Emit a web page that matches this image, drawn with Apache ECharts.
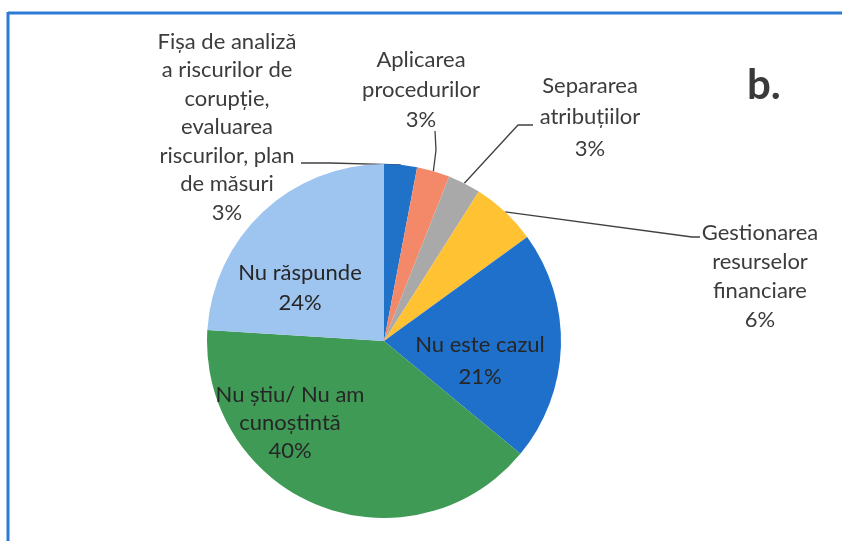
<!DOCTYPE html>
<html>
<head>
<meta charset="utf-8">
<script src="https://cdn.jsdelivr.net/npm/echarts@6/dist/echarts.min.js"></script>
<style>
html,body{margin:0;padding:0;background:#fff;}
#chart{width:842px;height:541px;}
</style>
</head>
<body>
<div id="chart"></div>
<script>
// ---- data ----
const categories = [
  'Fișa de analiză\na riscurilor de\ncorupție,\nevaluarea\nriscurilor, plan\nde măsuri',
  'Aplicarea\nprocedurilor',
  'Separarea\natribuțiilor',
  'Gestionarea\nresurselor\nfinanciare',
  'Nu este cazul',
  'Nu știu/ Nu am\ncunoștintă',
  'Nu răspunde'
];
const values = [3, 3, 3, 6, 21, 40, 24];
const colors = ['#1F72C8', '#F4896A', '#A9A9A9', '#FFC233', '#1E70CA', '#3F9A55', '#9EC4F0'];
const panelLetter = 'b.';

// ---- label styling (positions are layout, not data) ----
const labelSpots = [
  {x: 227, y: 127, lh: 28.5, elbow: [[330, 163], [301, 163]], outside: true},
  {x: 421, y: 90, lh: 30, elbow: [[436, 150], [435, 131]], outside: true},
  {x: 590, y: 117, lh: 31.5, elbow: [[518, 125], [533, 125]], outside: true},
  {x: 760, y: 276, lh: 29, elbow: [[692, 237], [700, 237]], outside: true},
  {x: 480, y: 361, lh: 32, outside: false},
  {x: 290, y: 423, lh: 28, outside: false},
  {x: 300, y: 288, lh: 30, outside: false}
];

const FONT = 'Lato, "Open Sans", sans-serif';
const chart = echarts.init(document.getElementById('chart'));

const data = categories.map((name, i) => ({
  name: name,
  value: values[i],
  itemStyle: {color: colors[i]},
  label: {
    lineHeight: labelSpots[i].lh,
    color: labelSpots[i].outside ? '#3c3c3c' : '#262626'
  },
  labelLine: {show: labelSpots[i].outside}
}));

chart.setOption({
  backgroundColor: '#ffffff',
  animation: false,
  graphic: [
    {type: 'line', shape: {x1: 8, y1: 13, x2: 842, y2: 13}, style: {stroke: '#2E7BD4', lineWidth: 3}},
    {type: 'line', shape: {x1: 8, y1: 12, x2: 8, y2: 541}, style: {stroke: '#2E7BD4', lineWidth: 3}},
    {type: 'text', left: 747, top: 64, style: {text: panelLetter, font: 'bold 42px ' + FONT, fill: '#3a3a3a'}}
  ],
  series: [{
    type: 'pie',
    center: [384, 341],
    radius: [0, 177],
    startAngle: 90,
    clockwise: true,
    avoidLabelOverlap: false,
    data: data,
    label: {
      show: true,
      position: 'outside',
      fontFamily: FONT,
      fontSize: 22,
      align: 'center',
      formatter: p => p.name + '\n' + p.value + '%'
    },
    labelLine: {
      show: true,
      length: 10,
      length2: 10,
      lineStyle: {color: '#404040', width: 1.3}
    },
    emphasis: {disabled: true},
    labelLayout: function (params) {
      const s = labelSpots[params.dataIndex];
      const out = {x: s.x, y: s.y, align: 'center', verticalAlign: 'middle'};
      if (s.outside && params.labelLinePoints) {
        out.labelLinePoints = [params.labelLinePoints[0], s.elbow[0], s.elbow[1]];
      }
      return out;
    }
  }]
});
</script>
</body>
</html>
